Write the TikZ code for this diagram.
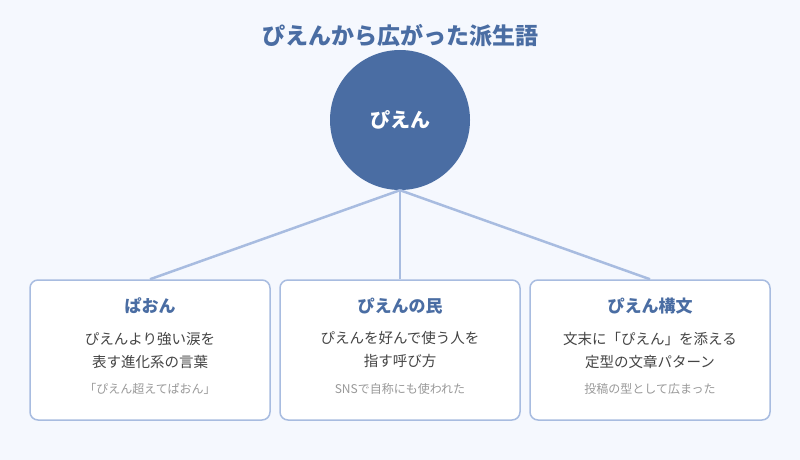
\documentclass[tikz,border=0pt]{standalone}
\usepackage{fontspec}
\setmainfont{Noto Sans CJK JP}
\definecolor{bg}{HTML}{F5F8FE}
\definecolor{main}{HTML}{4A6DA3}
\definecolor{line}{HTML}{A8BCE0}
\definecolor{txt}{HTML}{444444}
\definecolor{note}{HTML}{999999}
\begin{document}
\begin{tikzpicture}[x=1pt,y=-1pt,
  box/.style={draw=line,line width=1.5pt,fill=white,rounded corners=8pt,minimum width=240pt,minimum height=140pt,inner sep=0pt},
  conn/.style={draw=line,line width=2.5pt},
  ttl/.style={text=main,font=\fontsize{17}{20}\selectfont\bfseries},
  desc/.style={text=txt,font=\fontsize{14.5}{23}\selectfont,align=center},
  nt/.style={text=note,font=\fontsize{12}{14}\selectfont}]
\fill[bg] (0,0) rectangle (800,460);
\useasboundingbox (0,0) rectangle (800,460);
\node[text=main,font=\fontsize{23}{27}\selectfont\bfseries] (title) at (400,36) {ぴえんから広がった派生語};
\node[circle,fill=main,minimum size=140pt,inner sep=0pt,text=white,font=\fontsize{20}{24}\selectfont\bfseries] (c) at (400,120) {ぴえん};
\node[box] (b1) at (150,350) {};
\node[box] (b2) at (400,350) {};
\node[box] (b3) at (650,350) {};
\draw[conn] (c.south) -- (b1.north);
\draw[conn] (c.south) -- (b2.north);
\draw[conn] (c.south) -- (b3.north);
\node[ttl] (t1) at (150,306) {ぱおん};
\node[ttl] (t2) at (400,306) {ぴえんの民};
\node[ttl] (t3) at (650,306) {ぴえん構文};
\node[desc] (d1) at (150,350) {ぴえんより強い涙を\\表す進化系の言葉};
\node[desc] (d2) at (400,350) {ぴえんを好んで使う人を\\指す呼び方};
\node[desc] (d3) at (650,350) {文末に「ぴえん」を添える\\定型の文章パターン};
\node[nt] (n1) at (150,389) {「ぴえん超えてぱおん」};
\node[nt] (n2) at (400,389) {SNSで自称にも使われた};
\node[nt] (n3) at (650,389) {投稿の型として広まった};
\end{tikzpicture}
\end{document}
